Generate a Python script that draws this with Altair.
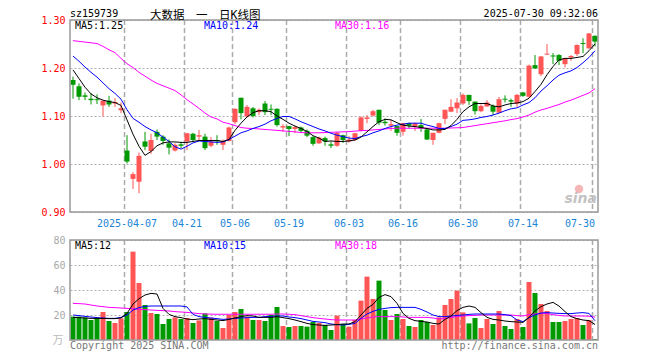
import altair as alt
import pandas as pd

# ---------------- data ----------------
dates = [
    "2025-03-24", "2025-03-25", "2025-03-26", "2025-03-27", "2025-03-28", "2025-03-31",
    "2025-04-01", "2025-04-02", "2025-04-03", "2025-04-07", "2025-04-08", "2025-04-09",
    "2025-04-10", "2025-04-11", "2025-04-14", "2025-04-15", "2025-04-16", "2025-04-17",
    "2025-04-18", "2025-04-21", "2025-04-22", "2025-04-23", "2025-04-24", "2025-04-25",
    "2025-04-28", "2025-04-29", "2025-04-30", "2025-05-06", "2025-05-07", "2025-05-08",
    "2025-05-09", "2025-05-12", "2025-05-13", "2025-05-14", "2025-05-15", "2025-05-16",
    "2025-05-19", "2025-05-20", "2025-05-21", "2025-05-22", "2025-05-23", "2025-05-26",
    "2025-05-27", "2025-05-28", "2025-05-29", "2025-05-30", "2025-06-03", "2025-06-04",
    "2025-06-05", "2025-06-06", "2025-06-09", "2025-06-10", "2025-06-11", "2025-06-12",
    "2025-06-13", "2025-06-16", "2025-06-17", "2025-06-18", "2025-06-19", "2025-06-20",
    "2025-06-23", "2025-06-24", "2025-06-25", "2025-06-26", "2025-06-27", "2025-06-30",
    "2025-07-01", "2025-07-02", "2025-07-03", "2025-07-04", "2025-07-07", "2025-07-08",
    "2025-07-09", "2025-07-10", "2025-07-11", "2025-07-14", "2025-07-15", "2025-07-16",
    "2025-07-17", "2025-07-18", "2025-07-21", "2025-07-22", "2025-07-23", "2025-07-24",
    "2025-07-25", "2025-07-28", "2025-07-29", "2025-07-30",
]

open_ = [
    1.175, 1.162, 1.143, 1.136, 1.135, 1.122, 1.132, 1.126, 1.112, 1.028,
    0.969, 0.963, 1.047, 1.027, 1.067, 1.057, 1.043, 1.028, 1.041, 1.047,
    1.063, 1.057, 1.057, 1.038, 1.050, 1.040, 1.048, 1.087, 1.138, 1.099,
    1.116, 1.108, 1.126, 1.115, 1.115, 1.076, 1.079, 1.073, 1.076, 1.069,
    1.056, 1.043, 1.054, 1.041, 1.038, 1.060, 1.047, 1.050, 1.069, 1.094,
    1.101, 1.113, 1.088, 1.080, 1.079, 1.067, 1.085, 1.078, 1.081, 1.072,
    1.050, 1.065, 1.094, 1.109, 1.116, 1.126, 1.144, 1.130, 1.110, 1.120,
    1.121, 1.107, 1.136, 1.133, 1.126, 1.149, 1.140, 1.206, 1.187, 1.228,
    1.226, 1.227, 1.208, 1.222, 1.229, 1.252, 1.241, 1.267,
]
high = [
    1.182, 1.168, 1.149, 1.147, 1.145, 1.132, 1.142, 1.137, 1.128, 1.060,
    0.983, 1.024, 1.067, 1.063, 1.072, 1.060, 1.051, 1.043, 1.046, 1.065,
    1.065, 1.071, 1.063, 1.056, 1.060, 1.051, 1.078, 1.116, 1.138, 1.123,
    1.119, 1.116, 1.131, 1.124, 1.116, 1.083, 1.079, 1.080, 1.078, 1.072,
    1.058, 1.057, 1.057, 1.047, 1.067, 1.061, 1.058, 1.065, 1.099, 1.102,
    1.113, 1.113, 1.095, 1.092, 1.079, 1.086, 1.086, 1.086, 1.094, 1.074,
    1.065, 1.086, 1.113, 1.135, 1.137, 1.147, 1.144, 1.130, 1.124, 1.133,
    1.124, 1.140, 1.143, 1.136, 1.146, 1.150, 1.207, 1.227, 1.225, 1.250,
    1.231, 1.229, 1.221, 1.227, 1.249, 1.262, 1.273, 1.268,
]
low = [
    1.136, 1.133, 1.133, 1.124, 1.125, 1.099, 1.119, 1.119, 1.106, 1.001,
    0.948, 0.939, 1.029, 1.021, 1.050, 1.040, 1.020, 1.026, 1.033, 1.029,
    1.048, 1.050, 1.029, 1.035, 1.040, 1.029, 1.047, 1.083, 1.093, 1.097,
    1.097, 1.102, 1.102, 1.102, 1.078, 1.067, 1.058, 1.064, 1.065, 1.056,
    1.038, 1.042, 1.038, 1.033, 1.036, 1.044, 1.044, 1.048, 1.068, 1.085,
    1.099, 1.081, 1.080, 1.069, 1.059, 1.059, 1.074, 1.069, 1.067, 1.050,
    1.040, 1.064, 1.083, 1.108, 1.106, 1.123, 1.123, 1.103, 1.108, 1.119,
    1.102, 1.106, 1.128, 1.119, 1.119, 1.140, 1.138, 1.198, 1.183, 1.227,
    1.208, 1.206, 1.201, 1.215, 1.225, 1.231, 1.240, 1.245,
]
close = [
    1.165, 1.140, 1.140, 1.133, 1.133, 1.132, 1.124, 1.129, 1.116, 1.005,
    0.979, 1.017, 1.036, 1.050, 1.057, 1.048, 1.034, 1.040, 1.038, 1.064,
    1.050, 1.060, 1.033, 1.047, 1.047, 1.048, 1.076, 1.115, 1.106, 1.119,
    1.100, 1.113, 1.108, 1.113, 1.081, 1.079, 1.073, 1.077, 1.069, 1.059,
    1.042, 1.055, 1.047, 1.038, 1.065, 1.050, 1.051, 1.064, 1.097, 1.097,
    1.110, 1.086, 1.085, 1.083, 1.065, 1.085, 1.080, 1.085, 1.074, 1.051,
    1.065, 1.085, 1.113, 1.119, 1.128, 1.144, 1.131, 1.110, 1.121, 1.128,
    1.109, 1.135, 1.134, 1.130, 1.144, 1.142, 1.205, 1.199, 1.224, 1.230,
    1.224, 1.215, 1.220, 1.225, 1.248, 1.250, 1.272, 1.255,
]
ma5 = [
    1.196, 1.178, 1.160, 1.146, 1.138, 1.133, 1.130, 1.128, 1.122, 1.092,
    1.062, 1.037, 1.018, 1.026, 1.038, 1.044, 1.046, 1.046, 1.045, 1.045,
    1.047, 1.049, 1.049, 1.049, 1.049, 1.047, 1.051, 1.070, 1.085, 1.098,
    1.107, 1.111, 1.111, 1.109, 1.100, 1.093, 1.085, 1.079, 1.074, 1.068,
    1.059, 1.054, 1.047, 1.048, 1.047, 1.047, 1.048, 1.050, 1.056, 1.067,
    1.078, 1.088, 1.093, 1.092, 1.086, 1.081, 1.079, 1.078, 1.076, 1.074,
    1.071, 1.071, 1.072, 1.080, 1.093, 1.109, 1.119, 1.126, 1.126, 1.126,
    1.121, 1.119, 1.123, 1.126, 1.127, 1.130, 1.137, 1.151, 1.166, 1.186,
    1.203, 1.217, 1.220, 1.220, 1.222, 1.224, 1.236, 1.250,
]
ma10 = [
    1.225, 1.214, 1.202, 1.191, 1.181, 1.169, 1.157, 1.147, 1.135, 1.113,
    1.095, 1.087, 1.078, 1.071, 1.065, 1.056, 1.047, 1.036, 1.031, 1.037,
    1.044, 1.048, 1.047, 1.046, 1.045, 1.046, 1.051, 1.058, 1.065, 1.069,
    1.074, 1.078, 1.083, 1.090, 1.095, 1.099, 1.099, 1.094, 1.088, 1.083,
    1.078, 1.073, 1.069, 1.064, 1.060, 1.057, 1.054, 1.053, 1.057, 1.060,
    1.065, 1.069, 1.074, 1.078, 1.081, 1.083, 1.085, 1.085, 1.085, 1.081,
    1.078, 1.074, 1.074, 1.078, 1.083, 1.091, 1.092, 1.094, 1.097, 1.099,
    1.102, 1.106, 1.111, 1.115, 1.117, 1.123, 1.128, 1.138, 1.152, 1.163,
    1.175, 1.185, 1.190, 1.194, 1.201, 1.211, 1.222, 1.236,
]
ma30 = [
    1.257, 1.2555, 1.254, 1.2525, 1.251, 1.245, 1.238, 1.232, 1.220, 1.209,
    1.201, 1.191, 1.183, 1.175, 1.168, 1.163, 1.158, 1.153, 1.144, 1.134,
    1.125, 1.116, 1.106, 1.098, 1.094, 1.087, 1.084, 1.080, 1.076, 1.0745,
    1.074, 1.073, 1.072, 1.071, 1.070, 1.069, 1.068, 1.067, 1.0655, 1.065,
    1.065, 1.065, 1.0655, 1.066, 1.0665, 1.067, 1.0675, 1.0685, 1.0694, 1.070,
    1.071, 1.072, 1.073, 1.074, 1.0745, 1.0745, 1.0745, 1.0745, 1.0745, 1.0745,
    1.0745, 1.0745, 1.0745, 1.075, 1.0755, 1.076, 1.078, 1.080, 1.082, 1.084,
    1.086, 1.088, 1.090, 1.0925, 1.0945, 1.098, 1.102, 1.108, 1.1125, 1.116,
    1.120, 1.124, 1.129, 1.133, 1.138, 1.143, 1.148, 1.157,
]
vol = [
    18.7, 18.7, 18.0, 16.0, 17.9, 22.4, 15.2, 13.6, 17.3, 22.4,
    70.7, 45.6, 28.0, 21.6, 20.8, 12.8, 16.8, 18.1, 16.8, 17.6,
    13.6, 15.7, 21.3, 17.9, 15.2, 9.6, 20.0, 22.4, 24.8, 18.7,
    16.0, 16.0, 15.2, 20.0, 26.4, 11.2, 10.4, 11.2, 11.2, 10.7,
    14.4, 13.6, 12.0, 8.0, 19.5, 12.8, 10.7, 16.0, 31.5, 50.7,
    32.8, 47.5, 24.0, 16.0, 20.8, 16.8, 11.2, 10.4, 16.0, 14.4,
    12.0, 18.1, 28.0, 32.8, 39.5, 22.1, 13.3, 17.6, 9.6, 16.8,
    12.8, 23.2, 11.2, 8.8, 16.8, 10.4, 46.4, 37.6, 28.8, 23.2,
    14.4, 14.4, 15.2, 16.8, 17.6, 12.0, 16.0, 0.8,
]
vma5 = [
    18.1, 17.9, 17.6, 17.3, 17.3, 17.3, 17.1, 17.1, 17.6, 21.3,
    28.8, 33.0, 36.0, 37.3, 36.8, 25.3, 20.5, 18.7, 17.9, 16.8,
    16.3, 16.8, 17.1, 16.5, 16.0, 15.5, 16.5, 17.6, 18.7, 19.5,
    19.2, 18.1, 18.1, 18.1, 18.7, 17.9, 17.1, 16.0, 14.7, 13.3,
    12.3, 12.0, 11.7, 12.0, 12.3, 12.8, 12.8, 14.7, 20.0, 25.3,
    28.5, 34.1, 36.3, 34.7, 29.3, 21.3, 17.3, 15.5, 14.9, 14.4,
    13.3, 12.8, 16.5, 19.2, 23.5, 26.1, 27.2, 26.1, 21.9, 18.1,
    16.5, 16.0, 15.2, 14.7, 14.4, 14.1, 18.1, 23.2, 26.7, 28.8,
    30.1, 27.2, 22.7, 18.7, 17.1, 16.0, 15.5, 12.4,
]
vma10 = [
    20.0, 19.5, 18.9, 18.4, 17.9, 17.6, 17.3, 17.3, 18.1, 20.0,
    24.0, 25.9, 26.9, 27.2, 27.2, 27.2, 27.2, 27.2, 27.2, 26.5,
    20.5, 18.7, 18.1, 17.6, 17.1, 16.5, 16.8, 17.3, 17.6, 17.9,
    18.1, 18.1, 18.7, 18.9, 19.2, 19.2, 18.4, 17.9, 17.1, 16.0,
    14.9, 14.4, 13.9, 12.8, 12.3, 12.0, 12.5, 13.3, 17.3, 20.8,
    22.9, 24.5, 25.3, 25.9, 26.1, 26.1, 26.1, 26.1, 24.5, 22.4,
    20.0, 18.7, 18.7, 19.2, 19.7, 20.0, 20.5, 20.8, 20.8, 20.8,
    20.8, 20.8, 20.3, 19.5, 16.0, 14.7, 17.9, 20.0, 21.6, 21.9,
    21.6, 21.3, 21.1, 21.1, 21.6, 21.9, 21.3, 15.4,
]
vma30 = [
    29.3, 29.1, 28.8, 28.0, 27.2, 26.7, 26.1, 25.9, 25.6, 25.3,
    25.1, 24.5, 24.3, 24.0, 23.7, 23.5, 23.2, 22.7, 22.4, 22.1,
    21.6, 21.1, 20.8, 20.7, 20.6, 20.6, 20.6, 20.6, 20.6, 20.6,
    20.6, 20.6, 20.6, 20.6, 20.8, 20.8, 20.6, 20.3, 19.5, 18.7,
    17.9, 17.3, 16.8, 16.3, 16.0, 16.0, 16.0, 16.0, 16.8, 17.6,
    18.4, 18.7, 18.7, 18.7, 18.7, 18.4, 18.1, 18.1, 18.1, 18.1,
    17.6, 16.8, 17.3, 18.1, 18.7, 19.2, 19.5, 19.7, 20.0, 20.0,
    20.0, 20.0, 20.0, 20.0, 19.5, 19.2, 20.3, 20.8, 21.3, 21.1,
    20.3, 19.7, 19.2, 19.2, 19.2, 19.2, 19.0, 18.3,
]

tick_dates = ["2025-04-07", "2025-04-21", "2025-05-06", "2025-05-19", "2025-06-03",
              "2025-06-16", "2025-06-30", "2025-07-14", "2025-07-30"]
price_ticks = [0.90, 1.00, 1.10, 1.20, 1.30]
vol_ticks = [20, 40, 60, 80]

code_text = "sz159739"
title_text = "大数据　一　日K线图"
time_text = "2025-07-30 09:32:06"
copyright_text = "Copyright 2025 SINA.COM"
url_text = "http://finance.sina.com.cn"
unit_text = "万"
logo_text = "sina"

# ---------------- styling ----------------
RED = "#ff5555"
GREEN = "#009900"
BLUE_LBL = "#1a85d6"
MONO = "DejaVu Sans Mono"
TITLE_FONT = "DejaVu Sans Mono, Noto Sans CJK SC"
CJK = "Noto Sans CJK SC"
W = 528
H = 320

df = pd.DataFrame({
    "date": dates, "open": open_, "high": high, "low": low, "close": close,
    "ma5": ma5, "ma10": ma10, "ma30": ma30,
    "vol": vol, "vma5": vma5, "vma10": vma10, "vma30": vma30,
})
df["dir"] = ["up" if c >= o else "down" for o, c in zip(open_, close)]
ticks_df = pd.DataFrame({"date": tick_dates})
one = pd.DataFrame({"k": [0]})

xs = alt.Scale(domain=dates, paddingInner=1 / 6, paddingOuter=1 / 12)
x_axis = alt.Axis(
    values=tick_dates,
    labelExpr="datum.value == '2025-04-07' ? datum.value : substring(datum.value, 5)",
    orient="bottom", offset=-128, domain=False, ticks=False, grid=False,
    labelColor=BLUE_LBL, labelFont=MONO, labelFontSize=10, labelPadding=6,
    labelAngle=0, title=None, bandPosition=0, labelOverlap=False, labelFlush=10,
)
X = alt.X("date:O", scale=xs, axis=x_axis)
Xg = alt.X("date:O", scale=xs, axis=x_axis, bandPosition=0)

yps = alt.Scale(domain=[0.90, 1.30], range=[192, 0], nice=False, zero=False)
yvs = alt.Scale(domain=[0, 80], range=[320, 220], nice=False)

color = alt.Color("dir:N", scale=alt.Scale(domain=["up", "down"], range=[RED, GREEN]), legend=None)

yp_axis = alt.Axis(values=price_ticks, format=".2f", orient="left", domain=False, ticks=False,
                   grid=True, gridColor="#b0b0b0", gridDash=[2, 2], gridWidth=1,
                   labelColor="#ff0000", labelFont=MONO, labelFontSize=10, labelPadding=5,
                   title=None)
yv_axis = alt.Axis(values=vol_ticks, format="d", orient="left", domain=False, ticks=False,
                   grid=True, gridColor="#b0b0b0", gridDash=[2, 2], gridWidth=1,
                   labelColor="#a8a8a8", labelFont=MONO, labelFontSize=10, labelPadding=5,
                   title=None)


def label(text, x, y, col, align="left", size=10, font=MONO, baseline="middle", **kw):
    return alt.Chart(one).mark_text(align=align, baseline=baseline, font=font, fontSize=size,
                                    color=col, **kw).encode(
        x=alt.value(x), y=alt.value(y), text=alt.value(text))


# ---------------- price panel ----------------
pgrid = alt.Chart(ticks_df).mark_rule(color="#aaaaaa", strokeDash=[5, 3], strokeWidth=1.5).encode(
    x=Xg, y=alt.Y(datum=1.30, scale=yps, axis=yp_axis), y2=alt.Y2(datum=0.90))
wick = alt.Chart(df).mark_rule(strokeWidth=1).encode(
    x=X, y=alt.Y("low:Q", scale=yps, axis=yp_axis), y2="high:Q", color=color)
body = alt.Chart(df).mark_bar().encode(
    x=X, y=alt.Y("open:Q", scale=yps, axis=yp_axis), y2="close:Q", color=color)
pm5 = alt.Chart(df).mark_line(color="black", strokeWidth=1).encode(
    x=X, y=alt.Y("ma5:Q", scale=yps, axis=yp_axis))
pm10 = alt.Chart(df).mark_line(color="#0000ff", strokeWidth=1).encode(
    x=X, y=alt.Y("ma10:Q", scale=yps, axis=yp_axis))
pm30 = alt.Chart(df).mark_line(color="#ff00ff", strokeWidth=1).encode(
    x=X, y=alt.Y("ma30:Q", scale=yps, axis=yp_axis))
pframe = alt.Chart(one).mark_rect(fillOpacity=0, stroke="#999999", strokeWidth=1.5).encode(
    x=alt.value(0), x2=alt.value(W), y=alt.Y(datum=1.30, scale=yps, axis=yp_axis),
    y2=alt.Y2(datum=0.90))

price = alt.layer(pgrid, wick, body, pm30, pm10, pm5, pframe)

# ---------------- volume panel ----------------
vgrid = alt.Chart(ticks_df).mark_rule(color="#aaaaaa", strokeDash=[5, 3], strokeWidth=1.5).encode(
    x=Xg, y=alt.Y(datum=80, scale=yvs, axis=yv_axis), y2=alt.Y2(datum=0))
vbars = alt.Chart(df).mark_bar().encode(
    x=X, y=alt.Y("vol:Q", scale=yvs, axis=yv_axis), color=color)
vm5 = alt.Chart(df).mark_line(color="black", strokeWidth=1).encode(
    x=X, y=alt.Y("vma5:Q", scale=yvs, axis=yv_axis))
vm10 = alt.Chart(df).mark_line(color="#0000ff", strokeWidth=1).encode(
    x=X, y=alt.Y("vma10:Q", scale=yvs, axis=yv_axis))
vm30 = alt.Chart(df).mark_line(color="#ff00ff", strokeWidth=1).encode(
    x=X, y=alt.Y("vma30:Q", scale=yvs, axis=yv_axis))
vframe = alt.Chart(one).mark_rect(fillOpacity=0, stroke="#999999", strokeWidth=1.5).encode(
    x=alt.value(0), x2=alt.value(W), y=alt.Y(datum=80, scale=yvs, axis=yv_axis),
    y2=alt.Y2(datum=0))

volume = alt.layer(vgrid, vbars, vm30, vm10, vm5, vframe)

# ---------------- texts ----------------
logo_eye = alt.Chart(one).mark_point(shape="circle", filled=True, size=70, color="#f3a3a3",
                                     opacity=0.8).encode(x=alt.value(509), y=alt.value(169))
texts = alt.layer(
    label(code_text, 0, -3, "black", baseline="alphabetic"),
    label(title_text, 80, -1.5, "black", size=11.5, font=TITLE_FONT, baseline="alphabetic"),
    label(time_text, W, -3, "black", align="right", baseline="alphabetic"),
    label(f"MA5:{ma5[-1]:.2f}", 5, 6, "black"),
    label(f"MA10:{ma10[-1]:.2f}", 134, 6, "#0000ff"),
    label(f"MA30:{ma30[-1]:.2f}", 265, 6, "#ff00ff"),
    label(f"MA5:{round(vma5[-1])}", 5, 226, "black"),
    label(f"MA10:{round(vma10[-1])}", 134, 226, "#0000ff"),
    label(f"MA30:{round(vma30[-1])}", 265, 226, "#ff00ff"),
    label(unit_text, -12, 321, "#bbbbbb", align="center", size=11, font=CJK),
    label(copyright_text, 0, 326, "#777777"),
    label(url_text, W, 326, "#777777", align="right"),
    logo_eye,
    label(logo_text, 527, 183, "#c4c4c4", align="right", size=14, font="DejaVu Sans",
          baseline="alphabetic", fontStyle="italic", fontWeight="bold"),
)

chart = alt.layer(price, volume, texts).resolve_scale(y="independent").properties(
    width=W, height=H,
    autosize=alt.AutoSizeParams(type="none"),
    padding={"left": 62, "top": 12, "right": 54, "bottom": 20},
    background="white",
).configure_view(strokeWidth=0)

chart.save("out.html", embed_options={"renderer": "svg", "actions": False})
